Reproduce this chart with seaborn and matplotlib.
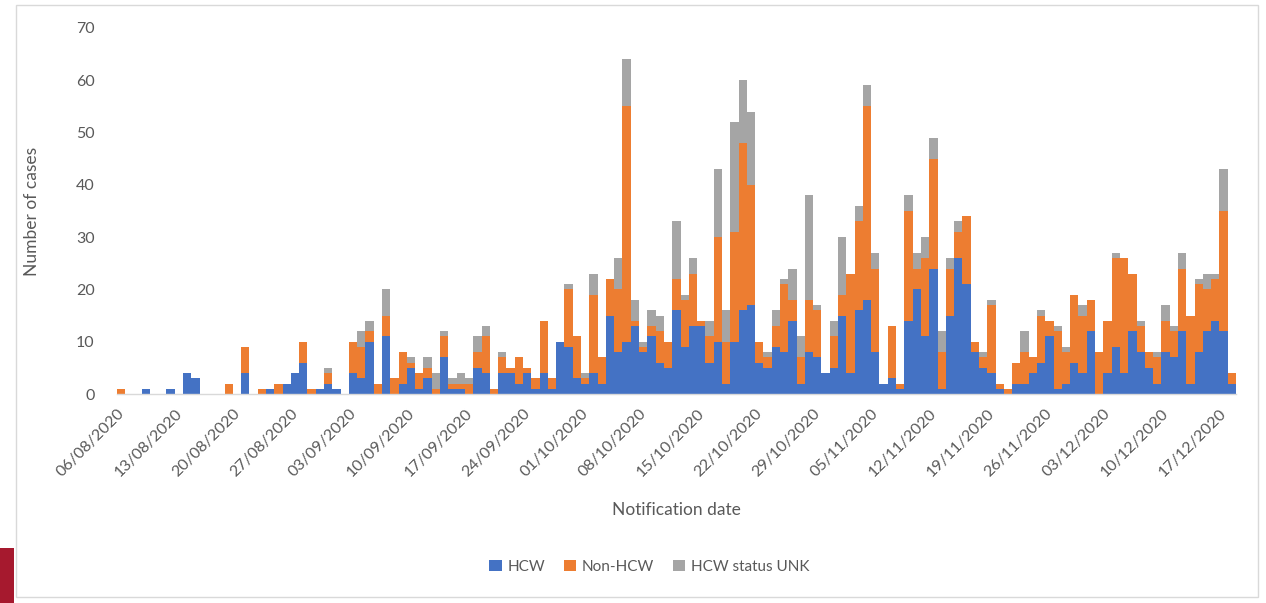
import numpy as np
import pandas as pd
import matplotlib
matplotlib.use("Agg")
import matplotlib.pyplot as plt
import seaborn as sns
from matplotlib.patches import Rectangle, Patch

# daily counts, 06/08/2020 .. 18/12/2020
start_date = "2020-08-06"
end_date = "2020-12-18"

hcw = [0, 0, 0, 1, 0, 0, 1, 0, 4, 3, 0, 0, 0, 0, 0, 4, 0, 0, 1, 0,
       2, 4, 6, 0, 1, 2, 1, 0, 4, 3, 10, 0, 11, 0, 2, 5, 1, 3, 0, 7,
       1, 1, 0, 5, 4, 0, 4, 4, 2, 4, 1, 4, 1, 10, 9, 3, 2, 4, 2, 15,
       8, 10, 13, 8, 11, 6, 5, 16, 9, 13, 13, 6, 10, 2, 10, 16, 17, 6, 5, 9,
       8, 14, 2, 8, 7, 4, 5, 15, 4, 16, 18, 8, 2, 3, 1, 14, 20, 11, 24, 1,
       15, 26, 21, 8, 5, 4, 1, 0, 2, 2, 4, 6, 11, 1, 2, 6, 4, 12, 0, 4,
       9, 4, 12, 8, 5, 2, 8, 7, 12, 2, 8, 12, 14, 12, 2]
non_hcw = [1, 0, 0, 0, 0, 0, 0, 0, 0, 0, 0, 0, 0, 2, 0, 5, 0, 1, 0, 2,
           0, 0, 4, 1, 0, 2, 0, 0, 6, 6, 2, 2, 4, 3, 6, 1, 3, 2, 1, 4,
           1, 1, 2, 3, 7, 1, 3, 1, 5, 1, 2, 10, 2, 0, 11, 8, 1, 15, 5, 7,
           12, 45, 1, 1, 2, 6, 5, 6, 9, 10, 1, 5, 20, 8, 21, 32, 23, 4, 2, 4,
           13, 4, 5, 10, 9, 0, 6, 4, 19, 17, 37, 16, 0, 10, 1, 21, 4, 15, 21, 7,
           9, 5, 13, 2, 2, 13, 1, 1, 4, 6, 3, 9, 3, 11, 6, 13, 11, 6, 8, 10,
           17, 22, 11, 5, 3, 5, 6, 5, 12, 13, 13, 8, 8, 23, 2]
unk = [0, 0, 0, 0, 0, 0, 0, 0, 0, 0, 0, 0, 0, 0, 0, 0, 0, 0, 0, 0,
       0, 0, 0, 0, 0, 1, 0, 0, 0, 3, 2, 0, 5, 0, 0, 1, 0, 2, 3, 1,
       1, 2, 1, 3, 2, 0, 1, 0, 0, 0, 0, 0, 0, 0, 1, 0, 1, 4, 0, 0,
       6, 9, 4, 1, 3, 3, 0, 11, 1, 3, 0, 3, 13, 6, 21, 12, 14, 0, 1, 3,
       1, 6, 4, 20, 1, 0, 3, 11, 0, 3, 4, 3, 0, 0, 0, 3, 3, 4, 4, 4,
       2, 2, 0, 0, 1, 1, 0, 0, 0, 4, 0, 1, 0, 1, 1, 0, 2, 0, 0, 0,
       1, 0, 0, 1, 0, 1, 3, 1, 3, 0, 1, 3, 1, 8, 0]

groups = ["HCW", "Non-HCW", "HCW status UNK"]
colors = ["#4472C4", "#ED7D31", "#A5A5A5"]

dates = pd.date_range(start_date, end_date, freq="D")
n_days = len(dates)

# long format for seaborn
df = pd.concat([
    pd.DataFrame({"day": np.arange(n_days), "cases": vals, "group": g})
    for g, vals in zip(groups, [hcw, non_hcw, unk])
], ignore_index=True)

sns.set_theme(style="white")
plt.rcParams["font.family"] = ["Lato", "DejaVu Sans"]
text_col = "#595959"

fig = plt.figure(figsize=(12.66, 6.03), dpi=100)
ax = fig.add_axes([0.0922, 0.3466, 0.8841, 0.607])

sns.histplot(data=df, x="day", weights="cases", hue="group",
             hue_order=groups[::-1], palette=colors[::-1],
             multiple="stack", discrete=True, shrink=1.0,
             linewidth=0, alpha=1, legend=False, ax=ax)

ax.set_xlim(-0.5, n_days - 0.5)
ax.set_ylim(0, 70)
ax.set_yticks(range(0, 71, 10))
ax.tick_params(axis="y", length=0, labelsize=11.5, labelcolor=text_col, pad=16)

tick_idx = np.arange(0, n_days, 7)
ax.set_xticks(tick_idx - 0.5)
ax.set_xticklabels([dates[i].strftime("%d/%m/%Y") for i in tick_idx],
                   rotation=45, ha="right", rotation_mode="anchor")
ax.tick_params(axis="x", length=5, width=1, color="#D9D9D9",
               labelsize=11.5, labelcolor=text_col, pad=4, direction="out")

for side in ["top", "right", "left"]:
    ax.spines[side].set_visible(False)
ax.spines["bottom"].set_color("#D9D9D9")
ax.spines["bottom"].set_linewidth(1)

ax.set_xlabel("Notification date", fontsize=12.5, color=text_col, labelpad=16)
ax.set_ylabel("Number of cases", fontsize=12.5, color=text_col, labelpad=26)

handles = [Patch(facecolor=c, edgecolor="none") for c in colors]
fig.legend(handles, groups, loc="center", bbox_to_anchor=(0.513, 0.06),
           ncol=3, frameon=False, fontsize=11, handlelength=0.8,
           handleheight=0.8, columnspacing=1.2, handletextpad=0.4,
           labelcolor=text_col)

# chart frame and side marker
fig.patches.append(Rectangle((0.0126, 0.01), 0.981, 0.982, transform=fig.transFigure,
                             fill=False, edgecolor="#D9D9D9", linewidth=1))
fig.patches.append(Rectangle((0, 0), 0.011, 0.091, transform=fig.transFigure,
                             facecolor="#A6192E", edgecolor="none"))

fig.savefig("out.png", dpi=100, facecolor="white")
